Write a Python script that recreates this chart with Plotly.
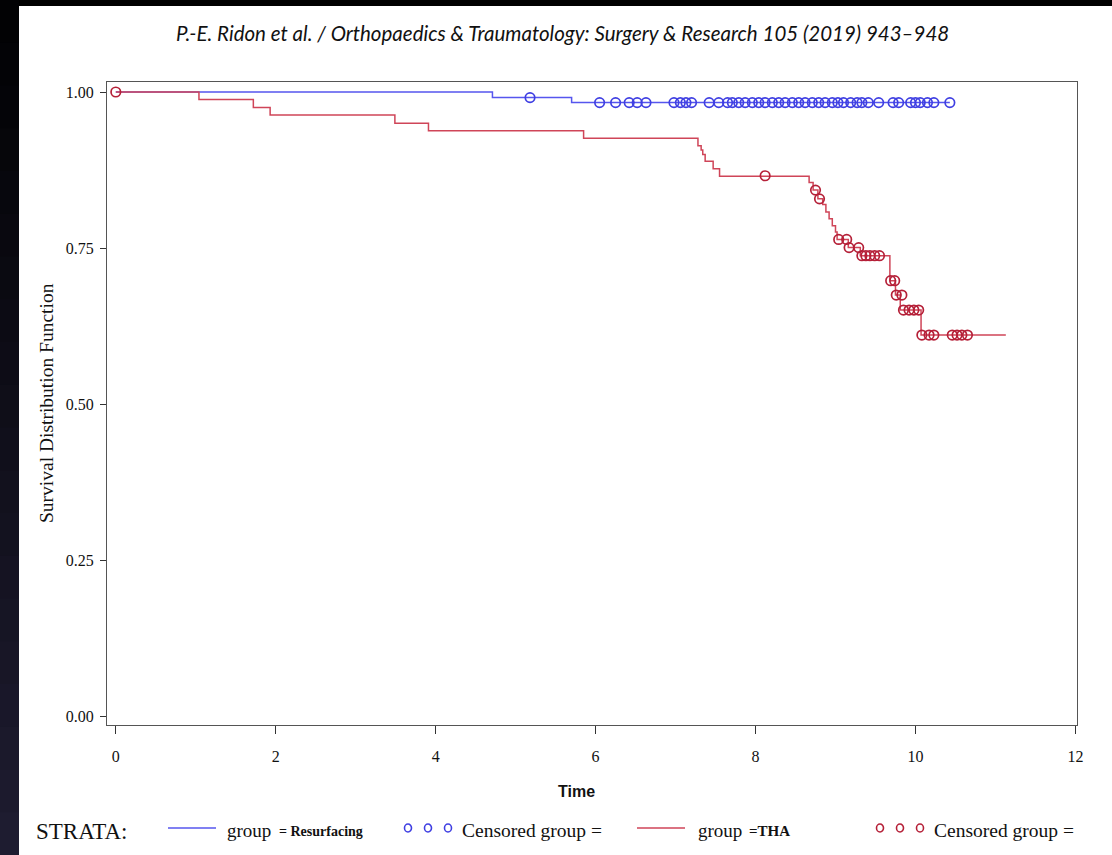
import plotly.graph_objects as go

# ---------------- data ----------------
# Resurfacing group (blue) - Kaplan-Meier steps
res_time = [0.0, 4.71, 5.70, 10.43]
res_surv = [1.0, 0.991, 0.983, 0.983]
res_cens_time = [5.18, 6.05, 6.25, 6.42, 6.52, 6.63, 6.98, 7.06, 7.13, 7.20, 7.42, 7.54,
                 7.65, 7.71, 7.79, 7.87, 7.96, 8.04, 8.12, 8.21, 8.29, 8.37, 8.46, 8.54,
                 8.62, 8.71, 8.79, 8.87, 8.96, 9.03, 9.10, 9.19, 9.27, 9.33, 9.41, 9.54,
                 9.72, 9.79, 9.94, 10.00, 10.06, 10.15, 10.23, 10.43]
res_cens_surv = [0.991] + [0.983] * 43

# THA group (red) - Kaplan-Meier steps
tha_time = [0.0, 1.04, 1.72, 1.93, 3.49, 3.91, 5.85, 7.28, 7.32, 7.34, 7.37, 7.47, 7.55,
            8.67, 8.72, 8.78, 8.84, 8.88, 8.92, 8.96, 9.00, 9.02, 9.16, 9.31, 9.68, 9.75,
            9.81, 10.07, 11.13]
tha_surv = [1.0, 0.988, 0.975, 0.963, 0.950, 0.938, 0.926, 0.914, 0.907, 0.900, 0.889,
            0.877, 0.865, 0.855, 0.843, 0.829, 0.820, 0.808, 0.797, 0.786, 0.776, 0.764,
            0.751, 0.738, 0.698, 0.675, 0.651, 0.611, 0.611]
tha_cens_time = [0.0, 8.12, 8.75, 8.80, 9.04, 9.14, 9.17, 9.29, 9.33, 9.38, 9.43, 9.49, 9.55,
                 9.69, 9.74, 9.76, 9.83, 9.85, 9.92, 9.98, 10.04, 10.08, 10.17, 10.23,
                 10.46, 10.52, 10.58, 10.65]
tha_cens_surv = [1.0, 0.866, 0.843, 0.829, 0.764, 0.764, 0.751, 0.751, 0.738, 0.738, 0.738,
                 0.738, 0.738, 0.698, 0.698, 0.675, 0.675, 0.651, 0.651, 0.651, 0.651,
                 0.611, 0.611, 0.611, 0.611, 0.611, 0.611, 0.611]

x_ticks = [0, 2, 4, 6, 8, 10, 12]
y_ticks = [0.0, 0.25, 0.5, 0.75, 1.0]
y_tick_labels = ["0.00", "0.25", "0.50", "0.75", "1.00"]

BLUE = "#5656ee"
BLUE_M = "#3f3fe2"
RED = "#cf4558"
RED_M = "#b52038"

W, H = 1112, 855
L, R, T, B = 107, 1077, 82, 725   # plot box in pixels


def px(x):
    return (x - L) / (R - L)


def py(y):
    return (B - y) / (B - T)


fig = go.Figure()
fig.add_trace(go.Scatter(x=res_time, y=res_surv, mode="lines", line=dict(color=BLUE, width=1.5, shape="hv"),
                         showlegend=False, hoverinfo="skip"))
fig.add_trace(go.Scatter(x=tha_time, y=tha_surv, mode="lines", line=dict(color=RED, width=1.5, shape="hv"),
                         showlegend=False, hoverinfo="skip"))
fig.add_trace(go.Scatter(x=res_cens_time, y=res_cens_surv, mode="markers",
                         marker=dict(symbol="circle-open", size=9.5, color=BLUE_M, line=dict(width=1.7)),
                         showlegend=False, hoverinfo="skip"))
fig.add_trace(go.Scatter(x=tha_cens_time, y=tha_cens_surv, mode="markers",
                         marker=dict(symbol="circle-open", size=9.5, color=RED_M, line=dict(width=1.7)),
                         showlegend=False, hoverinfo="skip"))

serif = "Liberation Serif, Times New Roman, serif"

fig.update_xaxes(range=[-0.11, 12.02], tickvals=x_ticks, ticks="outside", ticklen=8, tickwidth=1,
                 tickcolor="#333", showline=True, linecolor="#555", linewidth=1.2, mirror=True,
                 showgrid=False, zeroline=False, ticklabelstandoff=9,
                 tickfont=dict(family=serif, size=16, color="#111"))
fig.update_yaxes(range=[-0.013, 1.016], tickvals=y_ticks, ticktext=y_tick_labels, ticks="outside",
                 ticklen=6, tickwidth=1, tickcolor="#333", showline=True, linecolor="#555",
                 linewidth=1.2, mirror=True, showgrid=False, zeroline=False, ticklabelstandoff=3,
                 tickfont=dict(family=serif, size=16, color="#111"))

shapes = []
# black top strip
shapes.append(dict(type="rect", xref="paper", yref="paper", x0=px(0), x1=px(W), y0=py(6), y1=py(0),
                   fillcolor="black", line=dict(width=0), layer="above"))
# left dark strip with gradient (overlapping bands)
n = 20
for i in range(n):
    y0p = i * H / n
    y1p = (i + 1) * H / n + 3
    f = i / (n - 1)
    c = f"rgb({int(2 + 28 * f)},{int(2 + 26 * f)},{int(4 + 44 * f)})"
    shapes.append(dict(type="rect", xref="paper", yref="paper", x0=px(0), x1=px(19), y0=py(y1p), y1=py(y0p),
                       fillcolor=c, line=dict(width=0), layer="above"))

# legend line samples
LY = 828
shapes.append(dict(type="line", xref="paper", yref="paper", x0=px(168), x1=px(216), y0=py(LY), y1=py(LY),
                   line=dict(color=BLUE, width=1.5)))
shapes.append(dict(type="line", xref="paper", yref="paper", x0=px(637), x1=px(685), y0=py(LY), y1=py(LY),
                   line=dict(color=RED, width=1.5)))
for cx in (408, 428, 448):
    shapes.append(dict(type="circle", xref="paper", yref="paper", x0=px(cx - 3.5), x1=px(cx + 3.5),
                       y0=py(LY + 4), y1=py(LY - 4), line=dict(color=BLUE_M, width=1.6)))
for cx in (880, 900, 920):
    shapes.append(dict(type="circle", xref="paper", yref="paper", x0=px(cx - 3.5), x1=px(cx + 3.5),
                       y0=py(LY + 4), y1=py(LY - 4), line=dict(color=RED_M, width=1.6)))

annotations = []


def ann(text, x, y, size, family=serif, xanchor="left", color="#111", angle=0):
    annotations.append(dict(text=text, xref="paper", yref="paper", x=px(x), y=py(y), showarrow=False,
                            xanchor=xanchor, yanchor="middle", textangle=angle,
                            font=dict(family=family, size=size, color=color)))


ann("<i>P.-E. Ridon et al. / Orthopaedics &amp; Traumatology: Surgery &amp; Research 105 (2019) 943–948</i>",
    562, 33, 20.5, family="Lato, Roboto, sans-serif", xanchor="center")
ann("Survival Distribution Function", 47, 403, 19.5, angle=-90, xanchor="center")
ann("<b>Time</b>", 576, 791, 16, family="Liberation Sans, Arial, sans-serif", xanchor="center")
ann("STRATA:", 34, 831, 23)
ann("group", 225, 830, 19)
ann("<b>= Resurfacing</b>", 277, 831, 14)
ann("Censored group =", 460, 830, 19.5)
ann("group", 696, 830, 19)
ann("<b>=THA</b>", 747, 831, 15)
ann("Censored group =", 932, 830, 19.5)

fig.update_layout(width=W, height=H, margin=dict(l=L, r=W - R, t=T, b=H - B),
                  paper_bgcolor="white", plot_bgcolor="white", shapes=shapes, annotations=annotations)

fig.write_html("out.html")
